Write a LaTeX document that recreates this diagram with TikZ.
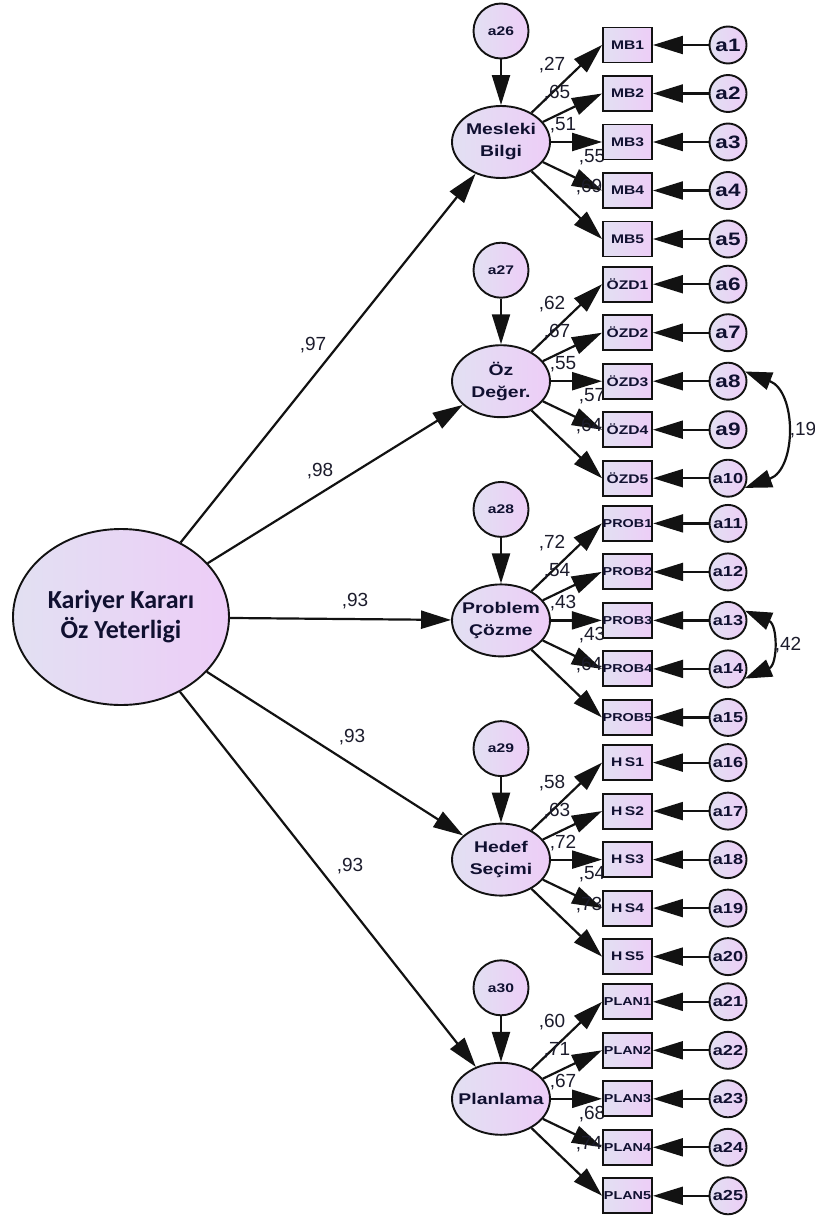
\documentclass[tikz,border=0pt]{standalone}
\usepackage{fontspec}
\setmainfont{Liberation Sans}
\newfontfamily\widefont[FakeStretch=1.25]{Liberation Sans}
\newfontfamily\calfont{Carlito}
\usetikzlibrary{arrows.meta,shapes.geometric}
\pgfdeclarelayer{bg}
\pgfsetlayers{bg,main}
\definecolor{fillA}{RGB}{226,224,242}
\definecolor{fillB}{RGB}{237,205,247}
\definecolor{txt}{RGB}{16,16,48}
\definecolor{edge}{RGB}{18,18,18}
\definecolor{numc}{RGB}{28,28,44}
\tikzset{
  shadefill/.style={left color=fillA, right color=fillB, draw=edge, line width=1.9pt, text=txt},
  latent/.style={shadefill, ellipse, minimum width=98pt, minimum height=72pt, inner xsep=-14pt, inner ysep=-8pt, align=center,
    font=\widefont\bfseries\fontsize{15.5}{22}\selectfont},
  mainlat/.style={shadefill, ellipse, minimum width=216pt, minimum height=176pt, inner sep=0pt, align=center,
    font=\calfont\bfseries\fontsize{26}{30}\selectfont},
  itembox/.style={shadefill, rectangle, minimum width=49pt, minimum height=35pt, inner sep=0pt,
    font=\widefont\bfseries\fontsize{12.5}{14}\selectfont},
  toperr/.style={shadefill, circle, minimum size=55pt, inner sep=0pt,
    font=\widefont\bfseries\fontsize{12.5}{14}\selectfont},
  errbig/.style={shadefill, circle, minimum size=37pt, inner sep=-4pt,
    font=\widefont\bfseries\fontsize{18}{20}\selectfont},
  errsmall/.style={shadefill, circle, minimum size=37pt, inner sep=-4pt,
    font=\widefont\bfseries\fontsize{14.5}{16}\selectfont},
  arr/.style={draw=edge, line width=2.2pt, -{Triangle[length=30pt,width=18pt]}},
  cov/.style={draw=edge, line width=2.2pt, {Triangle[length=27pt,width=18pt]}-{Triangle[length=27pt,width=18pt]}},
  lbl/.style={text=numc, font=\fontsize{19}{20}\selectfont, inner sep=0pt}
}
\newcommand\mygroup[4]{%
  \pgfmathsetmacro\yb{45+239.2*#1}%
  \pgfmathsetmacro\yc{\yb+97}%
  \pgfmathtruncatemacro\topn{26+#1}%
  \node[latent] (L#1) at (501,\yc) {#2};
  \node[toperr] (T#1) at (501,\yc-111) {a\topn};
  \begin{pgfonlayer}{bg}
    \draw[arr] (T#1) -- (L#1);
  \end{pgfonlayer}
  \foreach \i/\nm/\lab in {#4} {
    \pgfmathsetmacro\yi{\yb+48.5*\i}
    \pgfmathtruncatemacro\en{5*#1+\i+1}
    \node[itembox] (I#1-\i) at (627.5,\yi) {#3\nm};
    \ifnum\en<10
      \node[errbig] (E#1-\i) at (728,\yi) {a\en};
    \else
      \node[errsmall] (E#1-\i) at (728,\yi) {a\en};
    \fi
    \ifcase\i \def\dx{51}\def\dy{-77}\or \def\dx{56}\def\dy{-49}\or \def\dx{62}\def\dy{-17}\or \def\dx{91}\def\dy{15}\or \def\dx{88}\def\dy{45}\fi
    \begin{pgfonlayer}{bg}
      \draw[arr] (L#1) -- (I#1-\i.west);
      \draw[arr] (E#1-\i) -- (I#1-\i);
      \node[lbl] at (501+\dx,\yc+\dy) {\lab};
    \end{pgfonlayer}
  }
}
\begin{document}
\begin{tikzpicture}[x=1pt,y=-1pt]
\useasboundingbox (0,0) rectangle (814,1218);
\node[mainlat] (M) at (121,617) {Kariyer Kararı\\Öz Yeterligi};
\mygroup{0}{Mesleki\\Bilgi}{MB}{0/1/{,27},1/2/{,65},2/3/{,51},3/4/{,55},4/5/{,69}}
\mygroup{1}{Öz\\Değer.}{ÖZD}{0/1/{,62},1/2/{,67},2/3/{,55},3/4/{,57},4/5/{,64}}
\mygroup{2}{Problem\\Çözme}{\fontsize{11.5}{13}\selectfont PROB}{0/1/{,72},1/2/{,54},2/3/{,43},3/4/{,43},4/5/{,64}}
\mygroup{3}{Hedef\\Seçimi}{H\kern2.5pt S}{0/1/{,58},1/2/{,63},2/3/{,72},3/4/{,54},4/5/{,73}}
\mygroup{4}{Planlama}{\fontsize{11.5}{13}\selectfont PLAN}{0/1/{,60},1/2/{,71},2/3/{,67},3/4/{,68},4/5/{,74}}
\begin{pgfonlayer}{bg}
  \draw[arr] (M) -- (L0);
  \draw[arr] (M) -- (L1);
  \draw[arr] (M) -- (L2);
  \draw[arr] (M) -- (L3);
  \draw[arr] (M) -- (L4);
\end{pgfonlayer}
\node[lbl] at (313,345) {,97};
\node[lbl] at (320,471) {,98};
\node[lbl] at (355,601) {,93};
\node[lbl] at (352,737) {,93};
\node[lbl] at (350,866) {,93};
\draw[cov] (E1-2.30) .. controls +(52,20) and +(52,-19) .. (E1-4.-30);
\node[lbl] at (803,430) {,19};
\draw[cov] (E2-2.30) .. controls +(33,14) and +(33,-14) .. (E2-3.-30);
\node[lbl] at (788,645) {,42};
\end{tikzpicture}
\end{document}
